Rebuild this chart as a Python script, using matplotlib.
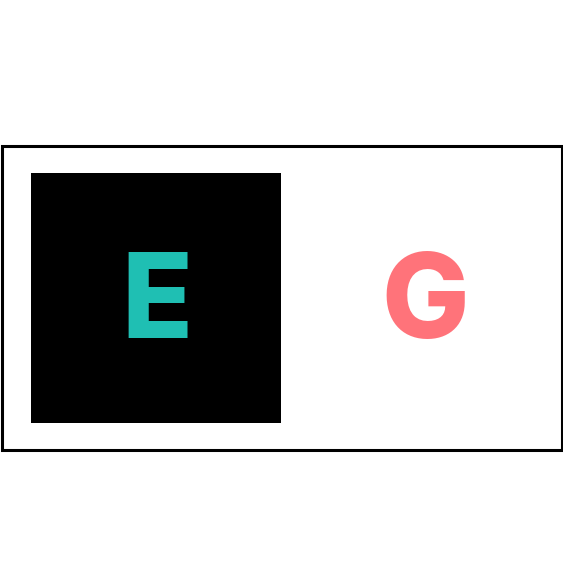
import matplotlib
matplotlib.use("Agg")
import matplotlib.pyplot as plt
from matplotlib.patches import Rectangle

W = H = 563
letters = ["E", "G"]
letter_colors = ["#1fbfb3", "#ff737a"]
letter_x = [157, 425]
box_bg = ["#000000", "#ffffff"]

fig = plt.figure(figsize=(5.63, 5.63), dpi=100)
ax = fig.add_axes([0, 0, 1, 1])
ax.set_xlim(0, W)
ax.set_ylim(H, 0)
ax.axis("off")

# outer frame
ax.add_patch(Rectangle((1.5, 145.5), 560, 304, fill=False, ec="black", lw=2.2))
# black square behind E
ax.add_patch(Rectangle((31, 173), 250, 250, fc=box_bg[0], ec="none"))

for ch, c, x in zip(letters, letter_colors, letter_x):
    ax.text(x, 295, ch, color=c, fontsize=84, fontweight="heavy",
            family=["Inter", "DejaVu Sans"], ha="center", va="center_baseline")

fig.savefig("out.png", dpi=100)
